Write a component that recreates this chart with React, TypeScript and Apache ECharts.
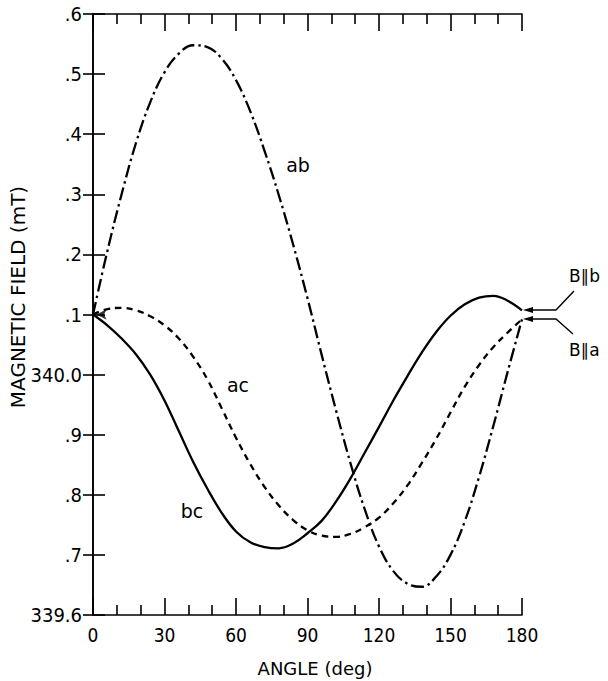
import React, { useEffect, useRef } from "react";
import * as echarts from "echarts";

const xTicks = [0, 30, 60, 90, 120, 150, 180];
const yTickLabels = ["339.6", ".7", ".8", ".9", "340.0", ".1", ".2", ".3", ".4", ".5", ".6"];

const angles = [
  0, 6, 12, 18, 24, 30, 36, 42, 48, 54, 60, 66, 72, 78, 84, 90,
  96, 102, 108, 114, 120, 126, 132, 138, 144, 150, 156, 162, 168, 174, 180,
];

const abField = [
  340.1, 340.205, 340.3, 340.385, 340.453, 340.503, 340.534, 340.548, 340.545, 340.526,
  340.49, 340.438, 340.372, 340.298, 340.216, 340.127, 340.032, 339.94, 339.853, 339.776,
  339.714, 339.673, 339.652, 339.647, 339.664, 339.7, 339.756, 339.83, 339.915, 340.005,
  340.092,
];

const acField = [
  340.1, 340.109, 340.111, 340.107, 340.097, 340.082, 340.06, 340.03, 339.992, 339.944,
  339.895, 339.851, 339.813, 339.782, 339.758, 339.741, 339.732, 339.73, 339.735, 339.746,
  339.762, 339.786, 339.816, 339.853, 339.893, 339.937, 339.98, 340.016, 340.046, 340.07,
  340.092,
];

const bcField = [
  340.1, 340.082, 340.06, 340.034, 340.0, 339.957, 339.906, 339.855, 339.81, 339.77,
  339.739, 339.721, 339.713, 339.711, 339.719, 339.736, 339.757, 339.789, 339.827, 339.87,
  339.913, 339.957, 339.998, 340.037, 340.071, 340.098, 340.117, 340.128, 340.131, 340.123,
  340.107,
];

const curveLabels = [
  { text: "ab", x: 298, y: 165 },
  { text: "ac", x: 238, y: 385 },
  { text: "bc", x: 192, y: 511 },
];

const tickFont = "'Liberation Sans Narrow', 'DejaVu Sans Condensed', 'Liberation Sans', sans-serif";
const textFont = "'DejaVu Sans', 'Liberation Sans', sans-serif";

const pairs = (ys: number[]) => angles.map((a, i) => [a, ys[i]]);

export default function App() {
  const ref = useRef<HTMLDivElement>(null);
  useEffect(() => {
    if (!ref.current) return;
    const chart = echarts.init(ref.current, undefined, { renderer: "svg" });
    const axisLine = { show: true, lineStyle: { color: "#000", width: 1.6 } };
    const lineStyleBase = { color: "#000", width: 2.3 };
    const option: any = {
      animation: false,
      backgroundColor: "#fff",
      grid: { left: 93, right: 86, top: 14, bottom: 66, containLabel: false },
      xAxis: [
        {
          type: "value", min: 0, max: 180, interval: 30, position: "bottom",
          axisLine, splitLine: { show: false },
          axisTick: { show: true, inside: true, length: 17, lineStyle: { color: "#000", width: 1.6 } },
          minorTick: { show: true, splitNumber: 3, length: 10, lineStyle: { color: "#000", width: 1.6 } },
          minorSplitLine: { show: false },
          axisLabel: {
            color: "#000", fontSize: 19, fontFamily: tickFont, margin: 10,
            formatter: (v: number) => (xTicks.includes(v) ? String(v) : ""),
          },
        },
        {
          type: "value", min: 0, max: 180, interval: 30, position: "top",
          axisLine, splitLine: { show: false },
          axisTick: { show: true, inside: true, length: 17, lineStyle: { color: "#000", width: 1.6 } },
          minorTick: { show: true, splitNumber: 3, length: 10, lineStyle: { color: "#000", width: 1.6 } },
          axisLabel: { show: false },
        },
      ],
      yAxis: [
        {
          type: "value", min: 339.6, max: 340.6, interval: 0.1, position: "left",
          axisLine, splitLine: { show: false },
          axisTick: { show: true, inside: true, length: 12, lineStyle: { color: "#000", width: 1.6 } },
          axisLabel: {
            color: "#000", fontSize: 20, fontFamily: tickFont, margin: 11,
            formatter: (v: number) => yTickLabels[Math.round((v - 339.6) * 10)] ?? "",
          },
        },
        {
          type: "value", min: 339.6, max: 340.6, interval: 0.1, position: "right",
          axisLine, splitLine: { show: false },
          axisTick: { show: true, inside: true, length: 10, lineStyle: { color: "#000", width: 1.6 } },
          axisLabel: { show: false },
        },
      ],
      series: [
        {
          name: "ab", type: "line", data: pairs(abField), smooth: 0.4, showSymbol: false,
          lineStyle: { ...lineStyleBase, type: [13, 4, 2.5, 4] },
        },
        {
          name: "ac", type: "line", data: pairs(acField), smooth: 0.4, showSymbol: false,
          lineStyle: { ...lineStyleBase, type: [6.5, 5] },
        },
        {
          name: "bc", type: "line", data: pairs(bcField), smooth: 0.4, showSymbol: false,
          lineStyle: { ...lineStyleBase, type: "solid" },
        },
        {
          name: "start", type: "scatter", data: [[1.5, bcField[0]]],
          symbol: "arrow", symbolSize: [8, 10], symbolRotate: 90,
          itemStyle: { color: "#000" }, silent: true,
        },
      ],
      graphic: [
        {
          type: "text", x: 315, y: 668,
          style: { text: "ANGLE (deg)", fill: "#000", font: `18px ${textFont}`, textAlign: "center", textVerticalAlign: "middle" },
        },
        {
          type: "text", x: 18, y: 297, rotation: Math.PI / 2,
          style: { text: "MAGNETIC FIELD (mT)", fill: "#000", font: `20px ${textFont}`, textAlign: "center", textVerticalAlign: "middle" },
        },
        ...curveLabels.map((l) => ({
          type: "text", x: l.x, y: l.y,
          style: { text: l.text, fill: "#000", font: `19px ${textFont}`, textAlign: "center", textVerticalAlign: "middle" },
        })),
        {
          type: "text", x: 569, y: 276,
          style: { text: "B∥b", fill: "#000", font: `17px ${textFont}`, textAlign: "left", textVerticalAlign: "middle" },
        },
        {
          type: "text", x: 569, y: 350,
          style: { text: "B∥a", fill: "#000", font: `17px ${textFont}`, textAlign: "left", textVerticalAlign: "middle" },
        },
        { type: "polyline", shape: { points: [[531, 310], [556, 310], [574, 291]] }, style: { stroke: "#000", lineWidth: 1.4, fill: null } },
        { type: "polygon", shape: { points: [[523, 310], [533, 307], [533, 313]] }, style: { fill: "#000" } },
        { type: "polyline", shape: { points: [[531, 319], [556, 319], [573, 334]] }, style: { stroke: "#000", lineWidth: 1.4, fill: null } },
        { type: "polygon", shape: { points: [[523, 319], [533, 316], [533, 322]] }, style: { fill: "#000" } },
      ],
    };
    chart.setOption(option);
    return () => chart.dispose();
  }, []);
  return <div ref={ref} style={{ position: "fixed", left: 0, top: 0, width: 608, height: 681, background: "#fff" }} />;
}
